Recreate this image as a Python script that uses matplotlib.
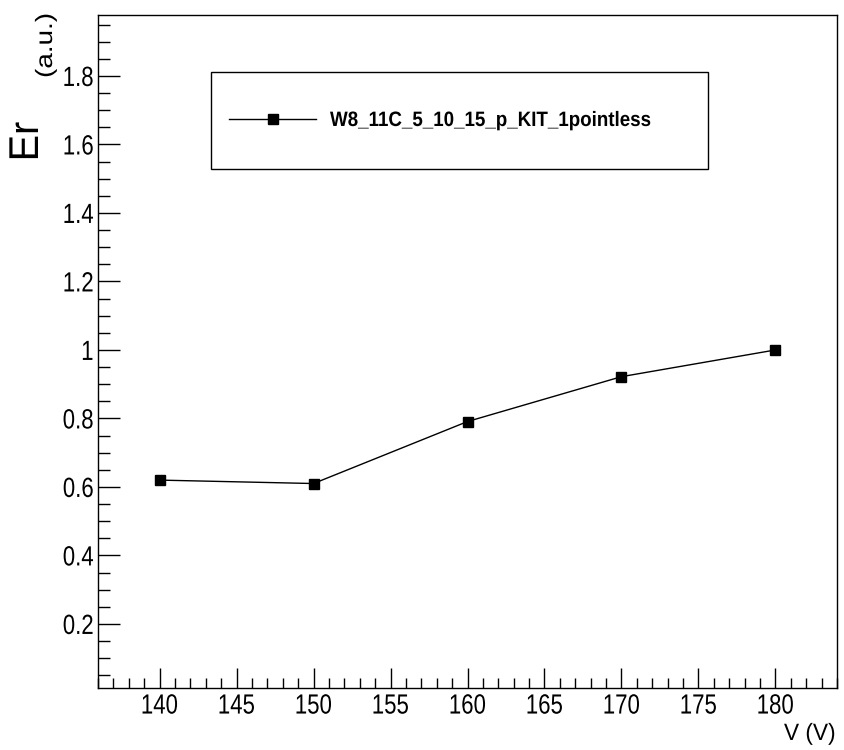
import matplotlib
matplotlib.use("Agg")
import matplotlib.pyplot as plt
from matplotlib import patheffects
from matplotlib.transforms import Affine2D
from matplotlib.patches import Rectangle
from matplotlib.ticker import MultipleLocator, FixedLocator

# ---- data ----
voltage = [140, 150, 160, 170, 180]
er_values = [0.620, 0.610, 0.791, 0.922, 1.000]
series_label = "W8_11C_5_10_15_p_KIT_1pointless"
x_label = "V (V)"
y_label_main = "Er"
y_label_unit = "(a.u.)"
x_ticks = [140, 145, 150, 155, 160, 165, 170, 175, 180]
y_ticks = [0.2, 0.4, 0.6, 0.8, 1.0, 1.2, 1.4, 1.6, 1.8]
y_tick_labels = ["0.2", "0.4", "0.6", "0.8", "1", "1.2", "1.4", "1.6", "1.8"]

plt.rcParams["font.family"] = ["Liberation Sans", "DejaVu Sans"]


class HScale(patheffects.AbstractPathEffect):
    """Scale glyphs along the text direction about an anchor (0 left, .5 centre, 1 right)."""
    def __init__(self, sx, anchor=0.5):
        super().__init__()
        self.sx = sx
        self.anchor = anchor

    def draw_path(self, renderer, gc, tpath, affine, rgbFace=None):
        xs = tpath.vertices[:, 0]
        if len(xs):
            x0 = xs.min() * (1 - self.anchor) + xs.max() * self.anchor
        else:
            x0 = 0
        t = Affine2D().translate(-x0, 0).scale(self.sx, 1).translate(x0, 0) + affine
        renderer.draw_path(gc, tpath, t, rgbFace)


W, H = 845, 750
fig = plt.figure(figsize=(W / 100, H / 100), dpi=100)
ax = fig.add_axes([98 / W, 1 - 688 / H, (837 - 98) / W, (688 - 15) / H])

ax.plot(voltage, er_values, color="black", lw=1.0, marker="s", markersize=7.5,
        markerfacecolor="black", markeredgecolor="black", label=series_label)

ax.set_xlim(136, 184)
ax.set_ylim(0.013, 1.978)

ax.xaxis.set_major_locator(FixedLocator(x_ticks))
ax.xaxis.set_minor_locator(MultipleLocator(1))
ax.yaxis.set_major_locator(FixedLocator(y_ticks))
ax.set_yticklabels(y_tick_labels)
ax.yaxis.set_minor_locator(MultipleLocator(0.05))

ax.tick_params(which="both", direction="in", top=False, right=False, width=1.0, color="black")
ax.tick_params(axis="x", which="major", length=14.4, labelsize=20, pad=4)
ax.tick_params(axis="x", which="minor", length=7.2)
ax.tick_params(axis="y", which="major", length=16, labelsize=20, pad=3)
ax.tick_params(axis="y", which="minor", length=8.6)
for s in ax.spines.values():
    s.set_linewidth(1.0)

for lab in ax.get_xticklabels():
    lab.set_path_effects([HScale(0.8, 0.5)])
for lab in ax.get_yticklabels():
    lab.set_path_effects([HScale(0.8, 1.0)])

fig.text(836 / W, 1 - 734 / H, x_label, ha="right", va="center", fontsize=17,
         path_effects=[HScale(0.96, 1.0)])
fig.text(27 / W, 1 - 141.5 / H, y_label_main, ha="center", va="center", rotation=90,
         fontsize=30, path_effects=[HScale(0.95, 0.5)])
fig.text(46 / W, 1 - 45.5 / H, y_label_unit, ha="center", va="center", rotation=90,
         fontsize=17, path_effects=[HScale(1.18, 0.5)])

# legend box
ax.add_patch(Rectangle((210.7 / W, 1 - 169 / H), (708 - 210.7) / W, 97.3 / H,
                       transform=fig.transFigure, facecolor="white", edgecolor="black",
                       linewidth=1.0, zorder=4, clip_on=False))
leg = ax.legend(loc="center left", bbox_to_anchor=(229 / W, 1 - 120.5 / H),
                bbox_transform=fig.transFigure, borderaxespad=0, borderpad=0,
                handlelength=87 / 20.83, handletextpad=14 / 20.83, frameon=False,
                prop={"weight": "bold", "size": 15})
for t in leg.get_texts():
    t.set_path_effects([HScale(0.9, 0.0)])

fig.savefig("out.png", dpi=100)
